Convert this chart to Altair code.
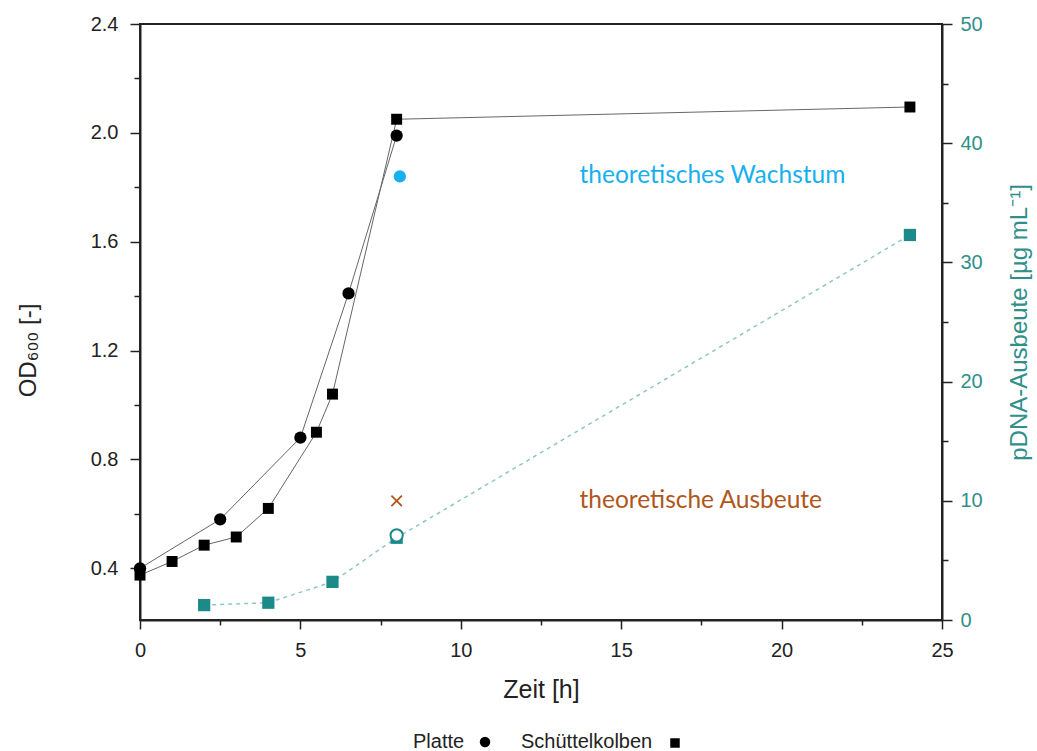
import altair as alt
import pandas as pd

# Optische Dichte (OD600) über die Zeit
platte_t = [0, 2.5, 5, 6.5, 8]
platte_od = [0.40, 0.58, 0.88, 1.41, 1.99]

kolben_t = [0, 1, 2, 3, 4, 5.5, 6, 8, 24]
kolben_od = [0.375, 0.425, 0.485, 0.515, 0.62, 0.90, 1.04, 2.05, 2.095]

# pDNA-Ausbeute (rechte Achse)
pdna_t = [2, 4, 6, 8, 24]
pdna_yield = [1.25, 1.45, 3.2, 6.9, 32.3]

# Einzelwerte / Theoriewerte
platte_pdna_t = [8]
platte_pdna = [7.1]
theo_growth_t = [8.1]
theo_growth_od = [1.84]
theo_yield_t = [8]
theo_yield = [10]

growth_label = "theoretisches Wachstum"
yield_label = "theoretische Ausbeute"
label_t = 13.7

TEAL = "#1b8a89"
TEAL_TXT = "#2f8f8a"
BLUE = "#17b0ee"
BROWN = "#b0561a"
LINE = "#666666"
AX_FONT = "Liberation Sans"

platte = pd.DataFrame({"t": platte_t, "od": platte_od})
kolben = pd.DataFrame({"t": kolben_t, "od": kolben_od})
pdna = pd.DataFrame({"t": pdna_t, "y": pdna_yield})
platte_p = pd.DataFrame({"t": platte_pdna_t, "y": platte_pdna})
growth = pd.DataFrame({"t": theo_growth_t, "od": theo_growth_od})
yld = pd.DataFrame({"t": theo_yield_t, "y": theo_yield})
growth_txt = pd.DataFrame({"t": [label_t], "od": theo_growth_od, "label": [growth_label]})
yield_txt = pd.DataFrame({"t": [label_t], "y": theo_yield, "label": [yield_label]})

x_scale = alt.Scale(domain=[0, 25], nice=False, zero=False)
x_ticks = [i * 2.5 for i in range(11)]
x_axis = alt.Axis(
    title="Zeit [h]", values=x_ticks, orient="bottom",
    labelExpr="datum.value % 5 === 0 ? format(datum.value, 'd') : ''",
    tickSize={"condition": {"test": "datum.value % 5 === 0", "value": 9}, "value": 5},
    grid=False, labelFontSize=20, titleFontSize=25, titleFontWeight="normal",
    labelPadding=11, titlePadding=17, labelFlush=False,
)
x_enc = alt.X("t:Q", scale=x_scale, axis=x_axis)

od_scale = alt.Scale(domain=[0.21, 2.4], nice=False, zero=False)
od_ticks = [0.4, 0.6, 0.8, 1.0, 1.2, 1.4, 1.6, 1.8, 2.0, 2.2, 2.4]
od_axis = alt.Axis(
    title="OD₆₀₀ [-]", values=od_ticks, orient="left",
    labelExpr="round(datum.value * 10) % 4 === 0 ? format(datum.value, '.1f') : ''",
    tickSize={"condition": {"test": "round(datum.value * 10) % 4 === 0", "value": 10}, "value": 6},
    grid=False, labelFontSize=20, titleFontSize=24, titleFontWeight="normal",
    labelPadding=12, titlePadding=50, titleY=326, labelFlush=False,
)
y_od = alt.Y("od:Q", scale=od_scale, axis=od_axis)

pd_scale = alt.Scale(domain=[0, 50], nice=False, zero=False)
pd_axis = alt.Axis(
    title="pDNA-Ausbeute [µg mL⁻¹]", values=list(range(0, 51, 5)), orient="right",
    labelExpr="datum.value % 10 === 0 ? format(datum.value, 'd') : ''",
    tickSize={"condition": {"test": "datum.value % 10 === 0", "value": 10}, "value": 6},
    grid=False, labelFontSize=20, titleFontSize=24, titleFontWeight="normal",
    labelColor=TEAL_TXT, titleColor=TEAL_TXT, labelPadding=8, titlePadding=25,
    titleAngle=270, titleBaseline="top", labelFlush=False,
)
y_pd = alt.Y("y:Q", scale=pd_scale, axis=pd_axis)

# --- linke Achse: OD600 ---
platte_line = alt.Chart(platte).mark_line(color=LINE, strokeWidth=1).encode(x=x_enc, y=y_od)
kolben_line = alt.Chart(kolben).mark_line(color=LINE, strokeWidth=1).encode(x=x_enc, y=y_od)
platte_pts = alt.Chart(platte).mark_point(shape="circle", filled=True, color="black", size=150, opacity=1).encode(x=x_enc, y=y_od)
kolben_pts = alt.Chart(kolben).mark_point(shape="square", filled=True, color="black", size=120, opacity=1).encode(x=x_enc, y=y_od)
growth_pt = alt.Chart(growth).mark_point(shape="circle", filled=True, color=BLUE, size=150, opacity=1).encode(x=x_enc, y=y_od)
growth_lbl = alt.Chart(growth_txt).mark_text(align="left", baseline="middle", font="Lato", fontSize=24.5, color=BLUE).encode(x=x_enc, y=y_od, text="label:N")

left = alt.layer(platte_line, kolben_line, platte_pts, kolben_pts, growth_pt, growth_lbl)

# --- rechte Achse: pDNA-Ausbeute ---
x_cross = "M-1,-1L1,1M-1,1L1,-1"
pdna_line = alt.Chart(pdna).mark_line(color="#8fc7c4", strokeWidth=1.5, strokeDash=[4, 4]).encode(x=x_enc, y=y_pd)
pdna_pts = alt.Chart(pdna).mark_point(shape="square", filled=True, color=TEAL, size=150, opacity=1).encode(x=x_enc, y=y_pd)
platte_pdna_pt = alt.Chart(platte_p).mark_point(shape="circle", filled=True, fill="white", stroke=TEAL, strokeWidth=2, size=150, opacity=1).encode(x=x_enc, y=y_pd)
yield_pt = alt.Chart(yld).mark_point(shape=x_cross, filled=False, color=BROWN, strokeWidth=1.8, size=110, opacity=1).encode(x=x_enc, y=y_pd)
yield_lbl = alt.Chart(yield_txt).mark_text(align="left", baseline="middle", font="Lato", fontSize=24.5, color=BROWN).encode(x=x_enc, y=y_pd, text="label:N")

right = alt.layer(pdna_line, pdna_pts, platte_pdna_pt, yield_pt, yield_lbl)

# --- Legende unten ---
one = pd.DataFrame({"k": [0]})
leg_platte = alt.Chart(one).mark_text(align="left", baseline="middle", font=AX_FONT, fontSize=20, color="#222").encode(
    x=alt.value(273), y=alt.value(718), text=alt.value("Platte"))
leg_kolben = alt.Chart(one).mark_text(align="left", baseline="middle", font=AX_FONT, fontSize=20, color="#222").encode(
    x=alt.value(381), y=alt.value(718), text=alt.value("Schüttelkolben"))
leg_circle = alt.Chart(one).mark_point(shape="circle", filled=True, color="black", size=110, opacity=1).encode(
    x=alt.value(345), y=alt.value(718))
leg_square = alt.Chart(one).mark_point(shape="square", filled=True, color="black", size=90, opacity=1).encode(
    x=alt.value(535), y=alt.value(719))
legend = alt.layer(leg_platte, leg_kolben, leg_circle, leg_square)

chart = (
    alt.layer(left, right, legend)
    .resolve_scale(y="independent")
    .properties(
        width=802, height=596,
        autosize=alt.AutoSizeParams(type="none"),
        padding={"left": 140, "top": 24, "right": 95, "bottom": 131},
        background="white",
    )
    .configure_view(stroke="#222", strokeWidth=2)
    .configure_axis(
        domainColor="#222", domainWidth=2, tickColor="#222", tickWidth=1.5,
        labelFont=AX_FONT, titleFont=AX_FONT, labelColor="#222", titleColor="#222",
    )
)

chart.save("out.html", embed_options={"renderer": "svg", "actions": False})
